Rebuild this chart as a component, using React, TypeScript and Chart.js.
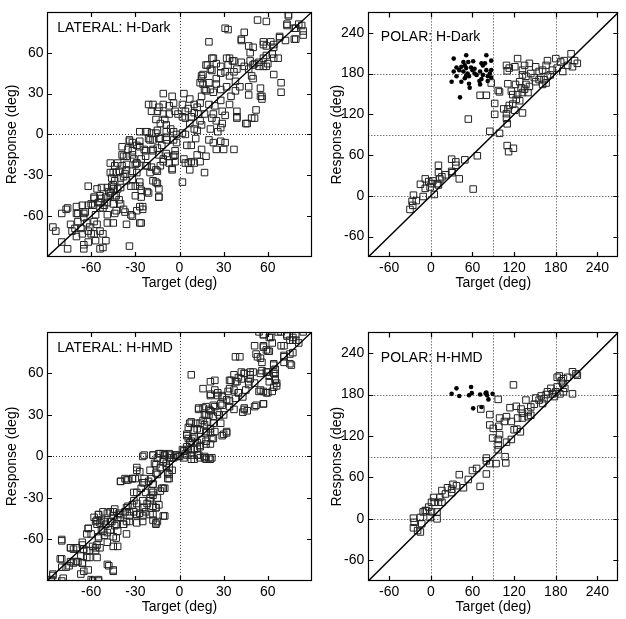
import { useEffect, useRef } from 'react';
import { Chart, registerables } from 'chart.js';

Chart.register(...registerables);

const FONT = "'Liberation Sans', Arial, Helvetica, sans-serif";

// ---------- axis definitions ----------
const LATERAL_TICKS = [-60, -30, 0, 30, 60];
const POLAR_TICKS = [-60, 0, 60, 120, 180, 240];
const LATERAL_RANGE = [-90, 90];
const POLAR_RANGE = [-90, 270];
const LATERAL_REFS = [0];
const POLAR_REFS = [0, 90, 180];
const X_TITLE = 'Target (deg)';
const Y_TITLE = 'Response (deg)';
const PANEL_TITLES = ['LATERAL: H-Dark', 'POLAR: H-Dark', 'LATERAL: H-HMD', 'POLAR: H-HMD'];
const LATERAL_LABEL_AT = [-83, 78];
const POLAR_LABEL_AT = [-72, 233];

// ---------- data: [target, response] ----------
const lateralDark: number[][] = [
  [74,88],[53,84],[59,83],[31,78],[33,77],[44,75],[20,68],[73,81],[78,78],[81,81],[78,70],[62,68],[68,71],[57,68],[42,70],[47,65],[50,64],[48,60],
  [18,51],[22,47],[16,44],[15,41],[23,56],[34,56],[37,54],[42,53],[44,50],[47,48],[51,52],[54,50],[57,56],[59,58],[63,59],[60,52],[59,50],[64,64],
  [67,56],[64,44],[69,38],[55,34],[55,28],[56,26],[69,31],[50,41],[47,35],[41,35],[38,32],[35,28],[34,22],[28,25],[24,21],[29,17],[31,14],[29,8],
  [28,5],[26,2],[20,22],[17,15],[14,10],[21,4],[20,-4],[23,-6],[25,-11],[31,-6],[30,-11],[28,-5],[39,17],[39,13],[45,8],[51,12],[52,18],[37,-11],
  [18,-16],[17,-28],[14,-20],[15,-11],[12,-15],[10,-21],[6,-21],[4,-21],[7,-26],[8,-20],[2,-35],[5,-8],[8,-8],[11,-3],[10,4],[12,3],[7,8],[4,12],
  [2,13],[-1,15],[-3,17],[4,17],[6,19],[2,22],[3,30],[7,26],[10,22],[12,20],[13,15],[10,16],[14,23],[15,28],[18,32],[21,33],[20,38],[25,37],[25,41],
  [28,45],[31,46],[34,43],[38,39],[37,46],[39,48],[33,51],[25,52],[28,50],[23,31],[28,33],[32,35],[16,37],[17,33],[14,38],[22,12],[23,15],[25,10],
  [8,13],[15,7],
  [-18,22],[-14,20],[-11,22],[-7,21],[-4,23],[-5,28],[-11,30],[-21,22],[-19,17],[-16,11],[-15,17],[-11,15],[-7,15],[-10,11],[-13,8],[-9,7],[-6,4],
  [-4,2],[-9,2],[-15,3],[-19,1],[-22,2],[-27,2],[-21,-3],[-18,-4],[-13,-3],[-9,-4],[-4,-4],[-2,0],[2,1],[4,0],[-2,-6],[-12,-8],[-15,-10],[-18,-12],
  [-14,-15],[-11,-18],[-7,-21],[-5,-25],[-4,-16],[-3,-12],[-9,-14],[-24,-11],[-27,-9],[-29,-8],[-32,-6],[-34,-5],[-32,-12],[-35,-11],[-39,-9],
  [-39,-15],[-36,-16],[-31,-18],[-29,-21],[-26,-18],[-23,-16],[-22,-23],[-19,-24],[-20,-28],[-15,-27],[-13,-23],[-18,-34],[-15,-36],[-14,-40],
  [-14,-46],[-22,-42],[-26,-41],[-27,-35],[-27,-53],[-25,-55],[-27,-65],[-32,-60],[-36,-66],[-37,-57],[-38,-55],[-30,-45],[-30,-38],[-32,-33],
  [-32,-27],[-30,-22],[-36,-26],[-37,-29],[-40,-32],[-44,-23],[-47,-21],[-42,-21],[-39,-23],[-41,-27],[-45,-28],[-46,-32],[-44,-34],[-40,-39],
  [-45,-40],[-48,-42],[-47,-45],[-44,-46],[-41,-48],[-40,-51],[-44,-58],[-45,-65],[-49,-59],[-52,-54],[-54,-50],[-49,-50],[-50,-46],[-54,-45],
  [-56,-40],[-58,-46],[-62,-38],[-54,-54],[-57,-59],[-58,-64],[-56,-66],[-54,-71],[-52,-73],[-50,-78],[-54,-84],[-52,-83],[-60,-73],[-62,-71],
  [-61,-68],[-63,-65],[-65,-61],[-64,-57],[-62,-52],[-60,-51],[-66,-52],[-70,-53],[-70,-58],[-69,-64],[-67,-69],[-66,-73],[-70,-75],[-74,-66],
  [-76,-54],[-80,-58],[-86,-68],[-84,-71],[-80,-79],[-76,-84],[-65,-81],[-65,-84],[-71,-69],[-73,-71],[-58,-73],[-57,-78],[-49,-65],[-62,-79],
  [-34,-82],[-3,-20],[3,-18],[-46,-38],
  [-77,-55],[-69,-58],[-65,-58],[-59,-52],[-58,-47],[-53,-39],[-49,-39],[-45,-37],[-42,-40],[-47,-43],[-43,-45],[-53,-47],[-55,-50],[-51,-52],
  [-45,-51],[-43,-56],[-33,-59],[-26,-65],[-29,-56],[-25,-53],[-26,-46],[-21,-43],[-27,-38],[-16,-35],[-14,-46],[-33,-38],[-36,-34],[-47,-28],
  [-43,-28],[-38,-31],[-29,-28],[-36,-22],[-29,-21],[-23,-23],[-16,-26],[-11,-20],[-5,-26],[-8,-16],[-3,-15],[-38,-16],[-32,-15],[-23,-12],
  [-18,-11],[-34,-4],[-27,-5],[-20,-4],[-14,-3],[-9,-2],[-23,2],[-16,1],
  [74,87],[42,69],[57,66],[59,65],[64,66],[68,72],[72,69],[79,70],[84,73],[83,80],[73,80],[79,78],[84,76],[22,56],[19,51],[21,48],[15,43],
  [32,56],[36,54],[48,54],[50,51],[54,53],[64,56],[57,50],[49,43],[56,28],[47,29],[46,8],[49,12],[39,12],
];

const polarDarkSquares: number[][] = [
  [125,202],[109,192],[113,188],[110,184],[121,190],[132,185],[142,195],[135,192],[151,190],[156,183],[161,185],[166,192],[168,199],[180,202],
  [187,197],[192,199],[202,209],[207,199],[211,195],[204,190],[197,192],[190,183],[182,188],[175,185],[172,178],[168,176],[163,171],[156,171],
  [151,168],[161,164],[166,166],[149,174],[144,180],[137,176],[132,178],[128,168],[122,164],[130,159],[135,157],[140,152],[142,161],[137,164],
  [132,152],[125,149],[118,149],[116,154],[111,165],[123,142],[128,140],[118,135],[113,133],[105,128],[111,128],[121,126],[132,122],[109,121],
  [109,114],[110,106],[92,120],[92,136],[97,155],[99,153],[87,166],[80,148],[71,148],[54,113],[85,95],[99,92],[110,74],[112,65],[119,70],
  [30,54],[36,50],[36,45],[49,53],[67,59],[61,10],[41,25],[30,36],[31,34],[21,31],[11,45],[11,34],[13,25],[9,18],[5,2],[3,22],[-1,13],[-3,21],
  [-8,25],[-15,17],[-8,11],[1,18],[-11,-1],[-25,1],[-21,-7],[-27,-8],[-26,-14],[-30,-20],[11,16],[16,28],
];

const polarDarkDots: number[][] = [
  [33,202],[51,207],[61,198],[73,195],[87,199],[80,207],[30,168],[33,183],[37,189],[41,185],[44,190],[47,183],[49,192],[51,188],[53,180],
  [55,176],[58,189],[60,185],[63,180],[44,168],[49,173],[51,177],[55,165],[56,159],[42,145],[63,187],[71,183],[70,169],[73,172],[75,192],
  [78,195],[80,185],[82,176],[85,180],[87,185],[87,174],[75,178],[71,164],[66,178],[47,197],[54,197],[37,176],[82,169],
];

const lateralHmd: number[][] = [
  [54,90],[57,88],[61,86],[67,90],[73,88],[77,86],[79,84],[75,84],[69,80],[63,82],[57,79],[51,80],[52,74],[55,71],[59,77],[61,76],[71,72],[75,74],
  [71,68],[64,66],[76,66],[65,60],[61,58],[59,61],[56,62],[50,61],[48,59],[44,60],[42,61],[38,72],[41,72],[37,59],[34,55],[39,54],[42,56],[47,54],
  [51,53],[54,47],[57,47],[59,46],[63,47],[64,50],[66,53],[65,56],[57,38],[51,36],[44,35],[43,32],[37,34],[34,36],[38,42],[40,46],[43,43],[33,47],
  [32,41],[29,44],[26,46],[24,48],[21,44],[24,55],[29,37],[30,30],[26,32],[23,37],[20,34],[18,30],[16,35],[13,35],[16,26],[17,23],[23,24],[28,24],
  [21,20],[18,17],[24,18],[30,16],[32,17],[22,13],[18,11],[15,12],[14,8],[12,6],[8,5],[7,10],[10,14],[12,20],[11,24],[7,24],[5,16],[6,13],[2,5],
  [8,59],[16,49],[21,54],[4,2],[5,1],[10,-2],[14,-1],[17,0],[20,-1],[22,-1],[18,-2],[13,1],[8,1],[-1,0],[-4,-1],[-6,1],[-10,1],[-11,2],[-13,2],
  [-18,1],[-24,1],[-15,-1],[-11,-2],[-7,-1],[-9,-5],[-7,-8],[-7,-13],[-7,-16],[-13,-8],[-15,-13],[-16,-6],[-20,-10],[-19,-16],[-18,-20],[-24,-16],
  [-27,-11],[-29,-8],[-32,-16],[-30,-16],[-37,-16],[-40,-18],[-24,-19],[-26,-23],[-29,-26],[-19,-25],[-18,-28],[-13,-25],[-11,-23],[-15,-30],
  [-20,-32],[-14,-35],[-16,-37],[-18,-42],[-15,-47],[-16,-48],[-11,-43],[-22,-34],[-24,-37],[-27,-41],[-29,-42],[-31,-40],[-32,-35],[-29,-34],
  [-35,-36],[-37,-40],[-34,-43],[-36,-47],[-38,-49],[-40,-44],[-41,-41],[-44,-38],[-47,-40],[-45,-43],[-47,-47],[-44,-50],[-42,-54],[-47,-53],
  [-50,-49],[-53,-46],[-55,-42],[-56,-46],[-56,-49],[-52,-54],[-49,-55],[-55,-59],[-62,-52],[-60,-56],[-56,-64],[-54,-66],[-57,-68],[-56,-73],
  [-61,-68],[-63,-73],[-65,-67],[-66,-62],[-70,-66],[-72,-67],[-74,-66],[-80,-61],[-80,-74],[-80,-80],[-74,-76],[-70,-76],[-66,-77],[-65,-83],
  [-62,-82],[-67,-85],[-60,-89],[-55,-90],[-86,-86],[-87,-89],[-80,-90],[-48,-79],[-45,-82],[-45,-65],[-35,-17],[-23,-26],[-21,-18],[-5,-10],
  [-25,0],[-18,1],[-14,2],[-10,1],[-7,2],[-3,1],[0,0],[3,4],[-17,-5],[-11,-4],[-9,-7],[-16,-12],[-8,-12],[-8,-16],[-29,-10],[-25,-19],[-40,-18],
  [-36,-17],[-32,-16],[-18,-20],[-12,-23],[-10,-23],[-18,-26],[-20,-30],[-25,-32],[-31,-26],[-31,-32],[-25,-37],[-23,-40],[-18,-36],[-16,-37],
  [-20,-42],[-25,-43],[-29,-42],[-34,-40],[-36,-37],[-40,-42],[-42,-44],[-45,-40],[-49,-41],[-52,-40],[-55,-42],[-58,-44],[-57,-47],[-54,-48],
  [-51,-47],[-46,-47],[-43,-49],[-38,-49],[-34,-47],[-29,-48],[-25,-47],[-18,-46],[-16,-49],[-10,-43],
  [-62,-52],[-63,-56],[-55,-58],[-51,-57],[-53,-53],[-45,-58],[-49,-62],[-42,-65],[-43,-59],[-36,-56],[-59,-65],[-57,-66],[-63,-68],[-66,-77],
  [-69,-76],[-72,-77],[-75,-79],[-77,-80],[-81,-74],[-80,-60],[-74,-66],[-70,-66],[-66,-64],[-67,-72],[-61,-73],[-59,-90],[-55,-89],[-49,-78],
  [-45,-83],[-86,-85],[-79,-88],
  [57,88],[62,86],[69,90],[73,87],[79,88],[84,90],[71,80],[77,84],[81,82],[57,80],[60,76],[53,72],[56,68],[64,67],[65,63],[71,73],[75,67],
  [77,75],[55,60],[60,61],[64,60],[61,54],[65,55],[66,51],[55,48],[60,46],[57,38],[52,37],[44,60],[48,61],[48,56],[40,57],[38,54],[35,55],
  [34,49],[37,48],[40,46],[45,48],[47,52],[44,34],[46,33],[34,40],[29,43],[26,44],[21,45],[28,38],[24,36],[21,33],[18,36],[13,34],[17,30],
  [20,30],[23,29],[27,30],[19,25],[14,24],[8,25],[6,21],[10,19],[14,19],[18,18],[21,17],[23,13],[9,13],[5,15],[8,11],[12,10],[14,7],[18,9],
  [21,9],[29,15],[32,18],[5,7],[3,4],[6,5],[10,5],
  [-6,-1],[-2,1],[3,-1],[8,-2],[12,1],[17,-1],[21,-2],
];

const polarHmdSquares: number[][] = [
  [119,194],[97,173],[72,159],[85,151],[99,146],[109,148],[106,141],[85,136],[90,131],[98,134],[99,122],[97,115],[89,117],[97,107],[109,111],
  [116,115],[120,129],[124,130],[129,126],[116,141],[114,161],[123,163],[130,159],[132,153],[132,146],[140,155],[140,148],[144,162],[137,172],
  [149,166],[151,175],[156,172],[159,178],[163,174],[166,180],[161,167],[168,184],[173,189],[175,181],[180,184],[182,191],[185,207],[190,196],
  [191,203],[193,189],[197,205],[204,213],[209,210],[211,208],[204,181],[186,181],[191,184],[188,200],[125,146],[144,150],[182,205],[178,177],
  [97,100],[107,90],[108,81],[94,80],[85,80],[80,88],[80,84],[80,65],[71,47],[66,73],[60,70],[54,57],[41,64],[47,45],[37,48],[32,50],[30,43],
  [24,45],[30,38],[21,36],[16,41],[13,31],[11,24],[16,24],[4,31],[5,24],[1,24],[-3,17],[-6,12],[-11,10],[1,10],[9,10],[9,0],[-1,2],[-15,2],
  [-13,-7],[-25,1],[-24,-5],[-25,-13],[-19,-17],[-15,-19],[-8,12],
];

const polarHmdDots: number[][] = [
  [30,181],[37,189],[41,178],[55,179],[58,191],[59,182],[61,160],[71,180],[73,162],[79,182],[81,179],[83,173],[89,181],[80,183],
];

type PanelSpec = {
  left: number; top: number; w: number; h: number;
  range: number[]; ticks: number[]; refs: number[];
  squares: number[][]; dots: number[][];
  title: string; labelAt: number[];
  yAxisW: number; padRight: number; padTop: number; xAxisH: number;
  xTitlePad: number; yTitlePad: number; yTickPad: number;
};

const framePlugin = {
  id: 'frame',
  beforeDatasetsDraw(chart: any, _args: any, opts: any) {
    const { ctx, chartArea } = chart;
    const { left, right, top, bottom } = chartArea;
    const xs = chart.scales.x;
    const ys = chart.scales.y;
    ctx.save();
    ctx.strokeStyle = '#333';
    ctx.lineWidth = 1;
    ctx.setLineDash([1, 2]);
    for (const v of opts.refs) {
      const px = Math.round(xs.getPixelForValue(v)) + 0.5;
      ctx.beginPath(); ctx.moveTo(px, top); ctx.lineTo(px, bottom); ctx.stroke();
      const py = Math.round(ys.getPixelForValue(v)) + 0.5;
      ctx.beginPath(); ctx.moveTo(left, py); ctx.lineTo(right, py); ctx.stroke();
    }
    ctx.restore();
  },
  afterDraw(chart: any, _args: any, opts: any) {
    const { ctx, chartArea } = chart;
    const { left, right, top, bottom } = chartArea;
    const xs = chart.scales.x;
    const ys = chart.scales.y;
    const TL = 5;
    ctx.save();
    ctx.strokeStyle = '#000';
    ctx.lineWidth = 1.2;
    ctx.setLineDash([]);
    ctx.strokeRect(Math.round(left) + 0.5, Math.round(top) + 0.5, Math.round(right - left) - 1, Math.round(bottom - top) - 1);
    ctx.beginPath();
    for (const v of opts.ticks) {
      const px = Math.round(xs.getPixelForValue(v)) + 0.5;
      ctx.moveTo(px, bottom); ctx.lineTo(px, bottom - TL);
      ctx.moveTo(px, top); ctx.lineTo(px, top + TL);
      const py = Math.round(ys.getPixelForValue(v)) + 0.5;
      ctx.moveTo(left, py); ctx.lineTo(left + TL, py);
      ctx.moveTo(right, py); ctx.lineTo(right - TL, py);
    }
    ctx.stroke();
    ctx.fillStyle = '#000';
    ctx.font = `14px ${FONT}`;
    ctx.textAlign = 'left';
    ctx.textBaseline = 'middle';
    ctx.fillText(opts.title, xs.getPixelForValue(opts.labelAt[0]), ys.getPixelForValue(opts.labelAt[1]));
    ctx.restore();
  },
};

function buildChart(canvas: HTMLCanvasElement, s: PanelSpec) {
  const [lo, hi] = s.range;
  const font = { family: FONT, size: 14 };
  const setTicks = (scale: any) => { scale.ticks = s.ticks.map((v) => ({ value: v })); };
  return new Chart(canvas, {
    type: 'scatter',
    data: {
      datasets: [
        {
          data: [{ x: lo, y: lo }, { x: hi, y: hi }],
          showLine: true, borderColor: '#000', borderWidth: 1.4, pointRadius: 0,
        } as any,
        {
          data: s.squares.map(([x, y]) => ({ x, y })),
          pointStyle: 'rect', pointRadius: 4.6, borderColor: '#222', borderWidth: 1,
          backgroundColor: 'rgba(0,0,0,0)',
        },
        {
          data: s.dots.map(([x, y]) => ({ x, y })),
          pointStyle: 'circle', pointRadius: 2.3, borderWidth: 0, backgroundColor: '#000',
        },
      ],
    },
    options: {
      animation: false,
      responsive: false,
      events: [],
      layout: { padding: { left: 0, right: s.padRight, top: s.padTop, bottom: 0 } },
      plugins: {
        legend: { display: false },
        tooltip: { enabled: false },
        frame: { refs: s.refs, ticks: s.ticks, title: s.title, labelAt: s.labelAt },
      } as any,
      scales: {
        x: {
          type: 'linear', min: lo, max: hi,
          afterBuildTicks: setTicks,
          afterFit: (sc: any) => { sc.height = s.xAxisH; },
          grid: { display: false, drawTicks: false },
          border: { display: false },
          ticks: { padding: 2.4, font, color: '#000', maxRotation: 0, autoSkip: false },
          title: { display: true, text: X_TITLE, font, color: '#000', padding: { top: 0, bottom: s.xTitlePad } },
        },
        y: {
          type: 'linear', min: lo, max: hi,
          afterBuildTicks: setTicks,
          afterFit: (sc: any) => { sc.width = s.yAxisW; },
          grid: { display: false, drawTicks: false },
          border: { display: false },
          ticks: { padding: s.yTickPad, font, color: '#000', autoSkip: false },
          title: { display: true, text: Y_TITLE, font, color: '#000', padding: { top: s.yTitlePad, bottom: 0 } },
        },
      },
    },
    plugins: [framePlugin as any],
  });
}

const PANELS: PanelSpec[] = [
  {
    left: 0, top: 0, w: 322, h: 300, range: LATERAL_RANGE, ticks: LATERAL_TICKS, refs: LATERAL_REFS,
    squares: lateralDark, dots: [], title: PANEL_TITLES[0], labelAt: LATERAL_LABEL_AT,
    yAxisW: 47, padRight: 10, padTop: 6, xAxisH: 43, xTitlePad: 8.6, yTitlePad: 3.3, yTickPad: 3.5,
  },
  {
    left: 322, top: 0, w: 304, h: 300, range: POLAR_RANGE, ticks: POLAR_TICKS, refs: POLAR_REFS,
    squares: polarDarkSquares, dots: polarDarkDots, title: PANEL_TITLES[1], labelAt: POLAR_LABEL_AT,
    yAxisW: 46.3, padRight: 7.7, padTop: 6, xAxisH: 43, xTitlePad: 8.6, yTitlePad: 6.3, yTickPad: 4,
  },
  {
    left: 0, top: 320, w: 322, h: 299, range: LATERAL_RANGE, ticks: LATERAL_TICKS, refs: LATERAL_REFS,
    squares: lateralHmd, dots: [], title: PANEL_TITLES[2], labelAt: LATERAL_LABEL_AT,
    yAxisW: 47, padRight: 10, padTop: 9.3, xAxisH: 38, xTitlePad: 3.6, yTitlePad: 3.3, yTickPad: 3.5,
  },
  {
    left: 322, top: 320, w: 304, h: 299, range: POLAR_RANGE, ticks: POLAR_TICKS, refs: POLAR_REFS,
    squares: polarHmdSquares, dots: polarHmdDots, title: PANEL_TITLES[3], labelAt: POLAR_LABEL_AT,
    yAxisW: 46.3, padRight: 7.7, padTop: 9.3, xAxisH: 38, xTitlePad: 3.6, yTitlePad: 6.3, yTickPad: 4,
  },
];

function Panel({ spec }: { spec: PanelSpec }) {
  const ref = useRef<HTMLCanvasElement | null>(null);
  useEffect(() => {
    if (!ref.current) return;
    const chart = buildChart(ref.current, spec);
    return () => chart.destroy();
  }, [spec]);
  return (
    <canvas
      ref={ref}
      width={spec.w}
      height={spec.h}
      style={{ position: 'absolute', left: spec.left, top: spec.top, width: spec.w, height: spec.h }}
    />
  );
}

export default function App() {
  return (
    <div style={{ position: 'absolute', left: 0, top: 0, width: 626, height: 619, background: '#fff', overflow: 'hidden' }}>
      {PANELS.map((p, i) => (
        <Panel key={i} spec={p} />
      ))}
    </div>
  );
}
